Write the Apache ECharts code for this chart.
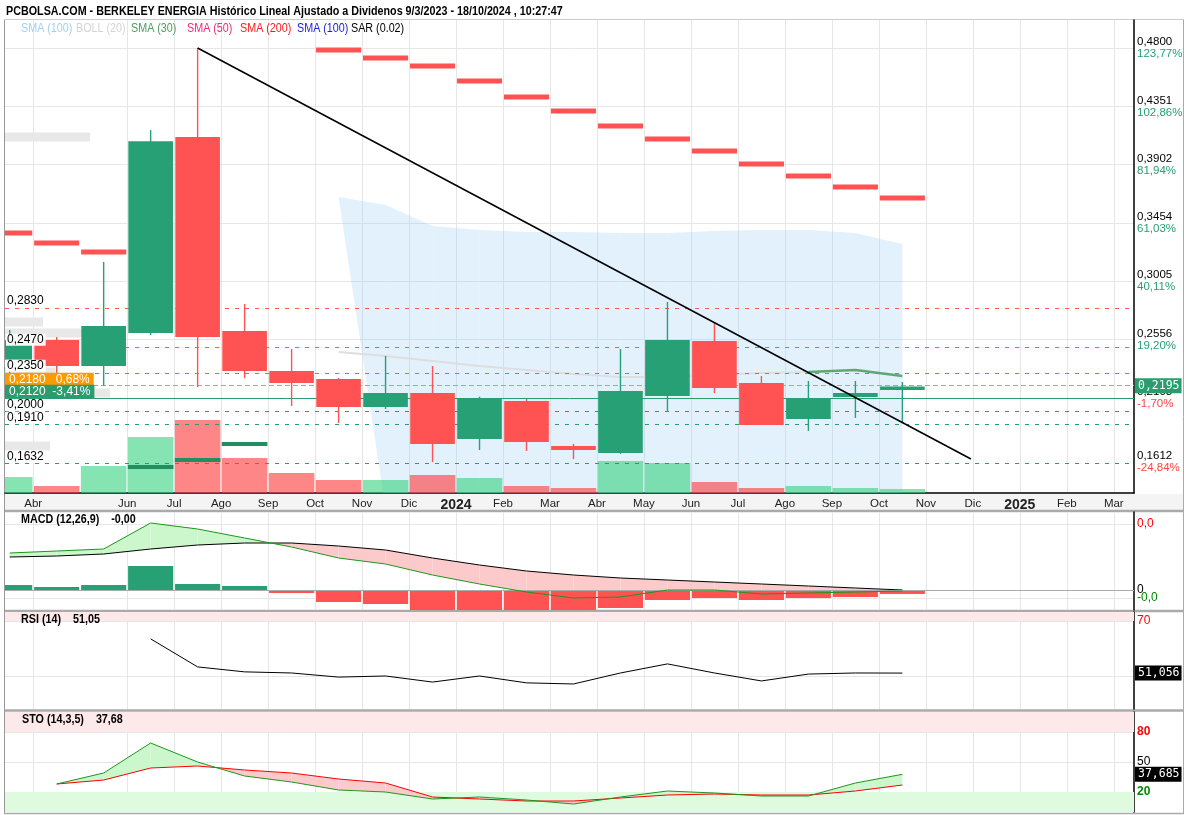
<!DOCTYPE html>
<html><head><meta charset="utf-8">
<script src="https://cdn.jsdelivr.net/npm/echarts@6/dist/echarts.min.js"></script>
<style>html,body{margin:0;padding:0;background:#fff}#c{width:1188px;height:815px}</style>
</head><body><div id="c"></div>
<script>
// ---------- DATA (month index 0 = Mar 2023) ----------
const monthLabels = ['Mar','Abr','May','Jun','Jul','Ago','Sep','Oct','Nov','Dic','2024','Feb','Mar','Abr','May','Jun','Jul','Ago','Sep','Oct','Nov','Dic','2025','Feb','Mar'];
const labelMonths = [1,3,4,5,6,7,8,9,10,11,12,13,14,15,16,17,18,19,20,21,22,23,24];
const candleMonths = [0,1,2,3,4,5,6,7,8,9,10,11,12,13,14,15,16,17,18,19];
const opens  = [0.2400,0.2552,0.2352,0.2606,0.4115,0.2621,0.2314,0.2252,0.2036,0.2144,0.1790,0.2083,0.1736,0.1682,0.2121,0.2544,0.2221,0.1944,0.2113,0.2167];
const closes = [0.2550,0.2352,0.2660,0.4083,0.2575,0.2314,0.2221,0.2036,0.2144,0.1752,0.2098,0.1767,0.1705,0.2160,0.2552,0.2183,0.1898,0.2106,0.2144,0.2195];
const lows   = [0.2283,0.2106,0.2198,0.2590,0.2190,0.2260,0.2044,0.1913,0.2021,0.1613,0.1705,0.1698,0.1636,0.1675,0.2006,0.2144,0.1898,0.1852,0.1952,0.1913];
const highs  = [0.2629,0.2575,0.3153,0.4168,0.4800,0.2829,0.2483,0.2260,0.2429,0.2352,0.2116,0.2098,0.1752,0.2483,0.2845,0.2691,0.2275,0.2237,0.2237,0.2229];
const volumes = [1.6,0.7,2.7,5.6,7.3,3.5,2.0,1.3,1.3,1.8,1.5,0.7,0.5,3.2,3.0,1.1,0.5,0.7,0.5,0.4];
const volMaMonths = [3,4,5];
const volMaValues = [2.6,3.3,4.9];
const sarMonths = [0,1,2,7,8,9,10,11,12,13,14,15,16,17,18,19];
const sarValues = [0.3376,0.3299,0.3230,0.4785,0.4723,0.4662,0.4546,0.4423,0.4315,0.4200,0.4100,0.4008,0.3908,0.3815,0.3730,0.3645];
const bandMonths = [7,8,9,10,11,12,13,14,15,16,17,18,19];
const bandUpper = [0.3653,0.3591,0.3430,0.3399,0.3384,0.3384,0.3376,0.3376,0.3391,0.3399,0.3399,0.3376,0.3291];
const bandLower = [0.3653,0.1250,0.1180,0.1150,0.1120,0.1100,0.1090,0.1080,0.1080,0.1070,0.1070,0.1060,0.1080];
const smaGrayMonths = [7,8,9,10,11,12,13,14,15,16,17];
const smaGray = [0.2460,0.2429,0.2391,0.2352,0.2321,0.2290,0.2267,0.2267,0.2283,0.2298,0.2306];
const sma30Months = [17,18,19];
const sma30 = [0.2306,0.2321,0.2275];
const bollStubStart = [0.4,0.4,0.4,0.4,1.47,0.4];
const bollStubEnd   = [2.21,1.21,2.21,1.47,2.64,1.36];
const bollStubValue = [0.4115,0.2691,0.2606,0.2306,0.2144,0.1736];
const trendX = [4.5,20.96];
const trendY = [0.4800,0.1636];
const redLevels = [0.2830,0.2470,0.2350];
const redLevelLabels = ['0,2830','0,2470','0,2350'];
const greenLevels = [0.2000,0.1910,0.1632];
const greenLevelLabels = ['0,2000','0,1910','0,1632'];
const supportLevel = 0.2120, supportLabel = '0,2120  -3,41%';
const orangeLevel = 0.2190, orangeLabel = '0,2180   0,68%';
const lastPrice = 0.2195, lastPriceLabel = '0,2195';
const priceTicks = [0.4800,0.4351,0.3902,0.3454,0.3005,0.2556];
const priceTickText = ['0,4800','0,4351','0,3902','0,3454','0,3005','0,2556'];
const priceTickPct = ['123,77%','102,86%','81,94%','61,03%','40,11%','19,20%'];
const extraTicks = [0.2108,0.1612];
const extraTickText = ['0,2108','0,1612'];
const extraTickPct = ['-1,70%','-24,84%'];
const macdMonths = [0,1,2,3,4,5,6,7,8,9,10,11,12,13,14,15,16,17,18,19];
const macdLine   = [37,39,41,67,61,52,43,32,26,15,6,-2,-8,-7,0,0,-4,-3,-2,-1];
const macdSignal = [33,34,36,41,45,47,47,44,40,32,25,19,15,12,10,8,6,4,2,0];
const macdHist   = [5,3,5,24,6,4,-3,-12,-14,-20,-20,-20,-20,-18,-10,-8,-10,-8,-7,-4];
const macdGridVals = [66,0,-8];
const rsiMonths = [3,4,5,6,7,8,9,10,11,12,13,14,15,16,17,18,19];
const rsiValues = [63.5,53.3,51.5,51.1,49.6,50.0,47.8,50.0,47.5,47.1,51.1,54.4,51.1,48.2,50.7,51.1,51.056];
const stoMonths = [1,2,3,4,5,6,7,8,9,10,11,12,13,14,15,16,17,18,19];
const stoK = [28,39,69,50,36,30,22,20,13,15,12,8,15,21,19,16,16,29,37.685];
const stoD = [28,32,44,46,42,39,33,29,15,13,11,11,14,17,18,17,17,21,27];
const titleText = 'PCBOLSA.COM - BERKELEY ENERGIA Histórico Lineal Ajustado a Dividenos 9/3/2023 - 18/10/2024 , 10:27:47';
const legendTexts = ['SMA (100)','BOLL (20)','SMA (30)','SMA (50)','SMA (200)','SMA (100)','SAR (0.02)'];
const legendColors = ['#9fd0f2','#d4d4d4','#4a9f5e','#ee2a7b','#ff1a1a','#1a1ae0','#000000'];
const panelLabels = ['MACD (12,26,9)    -0,00','RSI (14)    51,05','STO (14,3,5)    37,68'];

// ---------- STYLE ----------
const FONT2 = "'Liberation Sans',Arial,sans-serif";
const MONO = "'DejaVu Sans Mono','Liberation Mono',monospace";
const GREEN = '#26a074', RED = '#ff5252';
const GRID_COL = '#e6e6e6';
const X_MIN = 0.4, X_MAX = 24.43;
const NARROW = 0.86;

const chart = echarts.init(document.getElementById('c'));

function fillSeries(xs, a, b, upCol, downCol, xi, yi, z) {
  return {
    type: 'custom', xAxisIndex: xi, yAxisIndex: yi, z: z, clip: true, silent: true, animation: false,
    data: xs.slice(0, -1).map((x, i) => [x + 0.5, a[i], b[i]]),
    encode: { x: 0, y: [1, 2] },
    renderItem(params, api) {
      const i = params.dataIndex;
      const x0 = xs[i] + 0.5, x1 = xs[i + 1] + 0.5;
      const a0 = a[i], b0 = b[i], a1 = a[i + 1], b1 = b[i + 1];
      const d0 = a0 - b0, d1 = a1 - b1;
      const P = (x, y) => api.coord([x, y]);
      const polys = [];
      if (d0 * d1 >= 0) {
        polys.push({ pts: [P(x0, a0), P(x1, a1), P(x1, b1), P(x0, b0)], c: (d0 + d1) >= 0 ? upCol : downCol });
      } else {
        const t = d0 / (d0 - d1);
        const xc = x0 + t * (x1 - x0), yc = a0 + t * (a1 - a0);
        polys.push({ pts: [P(x0, a0), P(xc, yc), P(x0, b0)], c: d0 > 0 ? upCol : downCol });
        polys.push({ pts: [P(xc, yc), P(x1, a1), P(x1, b1)], c: d1 > 0 ? upCol : downCol });
      }
      return { type: 'group', children: polys.map(p => ({ type: 'polygon', shape: { points: p.pts }, style: { fill: p.c } })) };
    }
  };
}

function lineSeries(xs, ys, color, width, xi, yi, z, extra) {
  return Object.assign({
    type: 'line', xAxisIndex: xi, yAxisIndex: yi, z: z, silent: true, animation: false,
    data: xs.map((x, i) => [x + 0.5, ys[i]]), symbol: 'none',
    lineStyle: { color: color, width: width }, clip: true
  }, extra || {});
}

function monthBar(xs, vals, colorFn, xi, yi, z, frac, thick) {
  return {
    type: 'custom', xAxisIndex: xi, yAxisIndex: yi, z: z, clip: true, silent: true, animation: false,
    data: xs.map((x, i) => [x + 0.5, vals[i], i]),
    encode: { x: 0, y: 1 },
    renderItem(params, api) {
      const m = api.value(0), v = api.value(1), i = api.value(2);
      const w = api.size([1, 0])[0] * frac;
      const p = api.coord([m, v]);
      let y, h;
      if (thick) { y = p[1] - thick / 2; h = thick; }
      else { const p0 = api.coord([m, 0]); y = Math.min(p[1], p0[1]); h = Math.abs(p[1] - p0[1]); }
      return { type: 'rect', shape: { x: p[0] - w / 2, y: y, width: w, height: h }, style: { fill: colorFn(i, v) } };
    }
  };
}

const xAxes = [0, 1, 2, 3].map(g => ({
  type: 'value', gridIndex: g, min: X_MIN, max: X_MAX,
  axisLine: { show: g === 0, onZero: false, lineStyle: { color: '#000', width: 1.5 } },
  axisTick: { show: false, customValues: labelMonths },
  splitLine: { show: true, lineStyle: { color: GRID_COL, width: 1 } },
  axisLabel: {
    show: g === 0, customValues: labelMonths, margin: 5, color: '#222', fontFamily: FONT2, fontSize: 11.5, hideOverlap: false,
    formatter: v => { const i = Math.round(v); const s = monthLabels[i]; return (i === 10 || i === 22) ? '{y|' + s + '}' : s; },
    rich: { y: { fontWeight: 'bold', fontSize: 14, fontFamily: FONT2, color: '#222' } }
  }
}));

function findIdx(arr, v) { let b = 0; for (let i = 1; i < arr.length; i++) if (Math.abs(arr[i] - v) < Math.abs(arr[b] - v)) b = i; return b; }

const priceRich = {
  v: { color: '#000', fontSize: 11.5, fontFamily: FONT2, lineHeight: 12 },
  p: { color: '#26a074', fontSize: 11.5, fontFamily: FONT2, lineHeight: 12 },
  n: { color: '#ff4444', fontSize: 11.5, fontFamily: FONT2, lineHeight: 12 }
};

const yAxes = [
  { type: 'value', gridIndex: 0, position: 'right', min: 0.13743, max: 0.50156,
    axisLine: { show: true, lineStyle: { color: '#000', width: 1.5 } }, axisTick: { show: false, customValues: priceTicks },
    splitLine: { show: true, lineStyle: { color: GRID_COL } },
    axisLabel: { customValues: priceTicks, margin: 3, align: 'left', hideOverlap: false,
      formatter: v => { const i = findIdx(priceTicks, v); return '{v|' + priceTickText[i] + '}\n{p|' + priceTickPct[i] + '}'; }, rich: priceRich } },
  { type: 'value', gridIndex: 0, min: 0, max: 47.3, show: false },
  { type: 'value', gridIndex: 0, position: 'right', min: 0.13743, max: 0.50156,
    axisLine: { show: false }, axisTick: { show: false, customValues: extraTicks }, splitLine: { show: false },
    axisLabel: { customValues: extraTicks, margin: 3, align: 'left', hideOverlap: false,
      formatter: v => { const i = findIdx(extraTicks, v); return '{v|' + extraTickText[i] + '}\n{n|' + extraTickPct[i] + '}'; }, rich: priceRich } },
  { type: 'value', gridIndex: 1, position: 'right', min: -20, max: 78,
    axisLine: { show: true, lineStyle: { color: '#000', width: 1.5 } }, axisTick: { show: false, customValues: macdGridVals },
    splitLine: { show: true, lineStyle: { color: GRID_COL } },
    axisLabel: { customValues: [66, 0], margin: 3, align: 'left', fontFamily: FONT2, fontSize: 12, hideOverlap: false,
      formatter: v => v > 30 ? '{r|0,0}' : '{k|0}',
      rich: { r: { color: '#ff0000', fontSize: 12 }, k: { color: '#000', fontSize: 12 } } } },
  { type: 'value', gridIndex: 2, position: 'right', min: 38, max: 73.27,
    axisLine: { show: true, lineStyle: { color: '#000', width: 1.5 } }, axisTick: { show: false, customValues: [70, 50] },
    splitLine: { show: true, lineStyle: { color: GRID_COL } },
    axisLabel: { customValues: [70, 50], margin: 3, align: 'left', fontFamily: FONT2, fontSize: 12, color: '#ff0000', hideOverlap: false,
      formatter: v => v > 60 ? '70' : '' } },
  { type: 'value', gridIndex: 3, position: 'right', min: 0, max: 100,
    axisLine: { show: true, lineStyle: { color: '#000', width: 1.5 } }, axisTick: { show: false, customValues: [80, 50, 20] },
    splitLine: { show: true, lineStyle: { color: GRID_COL } },
    axisLabel: { customValues: [80, 50, 20], margin: 3, align: 'left', fontFamily: FONT2, fontSize: 12, hideOverlap: false,
      formatter: v => v > 60 ? '{r|80}' : (v > 30 ? '{k|50}' : '{g|20}'),
      rich: { r: { color: '#ff0000', fontWeight: 'bold', fontSize: 12 }, k: { color: '#000', fontSize: 12 }, g: { color: '#008800', fontWeight: 'bold', fontSize: 12 } } } }
];

const upDir = candleMonths.map((m, i) => closes[i] >= opens[i]);
const HIDDEN_LINE = { color: 'rgba(0,0,0,0)', width: 0 };

function levelLine(v, text, color, dash, labelOpts) {
  return { yAxis: v, lineStyle: { color: color, type: dash, width: 1 },
    label: Object.assign({ show: true, position: 'insideStartTop', formatter: text, color: '#000', fontSize: 12, fontFamily: FONT2,
      backgroundColor: 'rgba(255,255,255,0.95)', padding: [0, 2, 0, 1], distance: 1 }, labelOpts || {}) };
}
function valueBox(v, text, bg) {
  return { yAxis: v, lineStyle: HIDDEN_LINE,
    label: { show: true, position: 'end', distance: 1, formatter: text, color: '#fff', backgroundColor: bg,
      fontFamily: MONO, fontSize: 11.5, padding: [2, 2, 1, 3] } };
}

const levelData = [];
redLevels.forEach((v, i) => levelData.push(levelLine(v, redLevelLabels[i], '#ff5555', [4, 6])));
greenLevels.forEach((v, i) => levelData.push(levelLine(v, greenLevelLabels[i], '#2a9d6f', [4, 6])));
levelData.push(levelLine(orangeLevel, orangeLabel, '#ff9900', [5, 3], { color: '#fff', backgroundColor: '#ff9900', padding: [1, 4, 0, 4], distance: 0 }));
levelData.push(levelLine(supportLevel, supportLabel, '#2a9d6f', 'solid', { color: '#fff', backgroundColor: '#2a9d6f', padding: [1, 4, 1, 4], distance: 0 }));

const series = [
  fillSeries(bandMonths, bandUpper, bandLower, 'rgba(150,205,245,0.28)', 'rgba(150,205,245,0.28)', 0, 0, 1),
  {
    type: 'custom', xAxisIndex: 0, yAxisIndex: 0, z: 1, clip: true, silent: true, animation: false,
    data: bollStubValue.map((v, i) => [bollStubStart[i], v, bollStubEnd[i]]), encode: { x: [0, 2], y: 1 },
    renderItem(params, api) {
      const a = api.coord([api.value(0), api.value(1)]), b = api.coord([api.value(2), api.value(1)]);
      return { type: 'rect', shape: { x: a[0], y: a[1] - 4.5, width: b[0] - a[0], height: 9 }, style: { fill: '#e8e8e8' } };
    }
  },
  monthBar(candleMonths, volumes, i => upDir[i] ? 'rgba(60,210,130,0.62)' : 'rgba(255,60,60,0.62)', 0, 1, 2, 0.97, 0),
  monthBar(volMaMonths, volMaValues, () => '#1f8f5f', 0, 1, 3, 0.97, 4),
  { type: 'line', xAxisIndex: 0, yAxisIndex: 0, data: [], z: 3, silent: true, animation: false,
    markLine: { symbol: ['none', 'none'], silent: true, animation: false, data: levelData } },
  lineSeries(smaGrayMonths, smaGray, '#dedede', 2, 0, 0, 3),
  lineSeries(sma30Months, sma30, 'rgba(60,150,80,0.8)', 2.5, 0, 0, 4),
  {
    type: 'custom', xAxisIndex: 0, yAxisIndex: 0, z: 5, clip: true, silent: true, animation: false,
    data: candleMonths.map((m, i) => [m, opens[i], closes[i], lows[i], highs[i]]),
    encode: { x: 0, y: [1, 2, 3, 4] },
    renderItem(params, api) {
      const m = api.value(0) + 0.5, o = api.value(1), c = api.value(2), l = api.value(3), h = api.value(4);
      const w = api.size([1, 0])[0] * 0.95;
      const po = api.coord([m, o]), pc = api.coord([m, c]), pl = api.coord([m, l]), ph = api.coord([m, h]);
      const col = c >= o ? GREEN : RED;
      const top = Math.min(po[1], pc[1]), hh = Math.max(Math.abs(po[1] - pc[1]), 3);
      return { type: 'group', children: [
        { type: 'line', shape: { x1: ph[0], y1: ph[1], x2: pl[0], y2: pl[1] }, style: { stroke: col, lineWidth: 1.4 } },
        { type: 'rect', shape: { x: po[0] - w / 2, y: top, width: w, height: hh }, style: { fill: col } }
      ] };
    }
  },
  monthBar(sarMonths, sarValues, () => '#ff5252', 0, 0, 6, 0.96, 5),
  { type: 'line', xAxisIndex: 0, yAxisIndex: 0, z: 7, silent: true, animation: false, symbol: 'none', clip: true,
    data: trendX.map((x, i) => [x, trendY[i]]), lineStyle: { color: '#000', width: 1.5 } },
  { type: 'line', xAxisIndex: 0, yAxisIndex: 0, data: [], z: 20, silent: true, animation: false,
    markLine: { symbol: ['none', 'none'], silent: true, animation: false, z: 20, data: [valueBox(lastPrice, lastPriceLabel, '#2a9d6f')] } },

  // MACD
  monthBar(macdMonths, macdHist, (i, v) => v >= 0 ? GREEN : RED, 1, 3, 2, 0.96, 0),
  fillSeries(macdMonths, macdLine, macdSignal, '#ccf7cc', '#fccaca', 1, 3, 1),
  lineSeries(macdMonths, macdSignal, '#000', 1, 1, 3, 4, {
    markLine: { symbol: ['none', 'none'], silent: true, animation: false, label: { show: false },
      data: [
        { yAxis: 0, lineStyle: { color: '#aaa', type: 'solid', width: 1.2 } },
        { yAxis: macdGridVals[2], lineStyle: HIDDEN_LINE,
          label: { show: true, position: 'end', distance: 3, formatter: '-0,0', color: '#008800', fontFamily: FONT2, fontSize: 12 } }
      ] } }),
  lineSeries(macdMonths, macdLine, '#1e961e', 1, 1, 3, 5),

  // RSI
  lineSeries(rsiMonths, rsiValues, '#000', 1, 2, 4, 4, {
    markArea: { silent: true, itemStyle: { color: '#fde8ea' }, data: [[{ yAxis: 70 }, { yAxis: 73.27 }]] },
    markLine: { symbol: ['none', 'none'], silent: true, animation: false,
      data: [valueBox(rsiValues[rsiValues.length - 1], '51,056', '#000')] } }),

  // STO
  fillSeries(stoMonths, stoK, stoD, '#ccf7cc', '#fccaca', 3, 5, 2),
  lineSeries(stoMonths, stoD, '#ff0000', 1, 3, 5, 4, {
    markArea: { silent: true, data: [
      [{ yAxis: 80, itemStyle: { color: '#fde8ea' } }, { yAxis: 100 }],
      [{ yAxis: 0, itemStyle: { color: '#dffbdf' } }, { yAxis: 20 }]
    ] } }),
  lineSeries(stoMonths, stoK, '#1e961e', 1, 3, 5, 5, {
    markLine: { symbol: ['none', 'none'], silent: true, animation: false,
      data: [valueBox(stoK[stoK.length - 1], '37,685', '#000')] } })
];

const legendX = [21, 76, 131, 187, 240, 297, 351];
const panelTops = [513, 613, 713];
const panelLefts = [21, 21, 22];

const textEls = [
  { type: 'text', x: 6, y: 5, scaleX: NARROW, z: 50,
    style: { text: titleText, fontFamily: FONT2, fontSize: 12.5, fontWeight: 'bold', fill: '#000' } }
].concat(legendTexts.map((t, i) => ({ type: 'text', x: legendX[i], y: 22, scaleX: NARROW, z: 50,
    style: { text: t, fontFamily: FONT2, fontSize: 12.5, fill: legendColors[i] } })))
 .concat(panelLabels.map((t, i) => ({ type: 'text', x: panelLefts[i], y: panelTops[i], scaleX: NARROW, z: 50,
    style: { text: t, fontFamily: FONT2, fontSize: 12.5, fontWeight: 'bold', fill: '#000' } })));

const option = {
  animation: false,
  backgroundColor: '#fff',
  grid: [
    { left: 5, right: 54, top: 20, height: 473, outerBoundsMode: 'none' },
    { left: 5, right: 54, top: 512, height: 98, outerBoundsMode: 'none' },
    { left: 5, right: 54, top: 612, height: 97, outerBoundsMode: 'none' },
    { left: 5, right: 54, top: 712, height: 100, outerBoundsMode: 'none' }
  ],
  xAxis: xAxes,
  yAxis: yAxes,
  series: series,
  graphic: [
    { type: 'rect', z: -10, shape: { x: 5, y: 494, width: 1178, height: 16 }, style: { fill: '#f4f4f4' } },
    { type: 'line', shape: { x1: 4, y1: 511, x2: 1184, y2: 511 }, style: { stroke: '#aaa', lineWidth: 2.5 } },
    { type: 'line', shape: { x1: 4, y1: 611, x2: 1184, y2: 611 }, style: { stroke: '#aaa', lineWidth: 2.5 } },
    { type: 'line', shape: { x1: 4, y1: 710.5, x2: 1184, y2: 710.5 }, style: { stroke: '#aaa', lineWidth: 2.5 } },
    { type: 'line', shape: { x1: 4.5, y1: 19, x2: 4.5, y2: 814 }, style: { stroke: '#999', lineWidth: 1 } },
    { type: 'line', shape: { x1: 1183.5, y1: 19, x2: 1183.5, y2: 814 }, style: { stroke: '#aaa', lineWidth: 1 } },
    { type: 'line', shape: { x1: 4, y1: 813.5, x2: 1184, y2: 813.5 }, style: { stroke: '#aaa', lineWidth: 1.5 } },
    { type: 'line', shape: { x1: 4, y1: 19.5, x2: 1184, y2: 19.5 }, style: { stroke: '#ccc', lineWidth: 1 } }
  ].concat(textEls)
};
chart.setOption(option);
</script>
</body></html>
